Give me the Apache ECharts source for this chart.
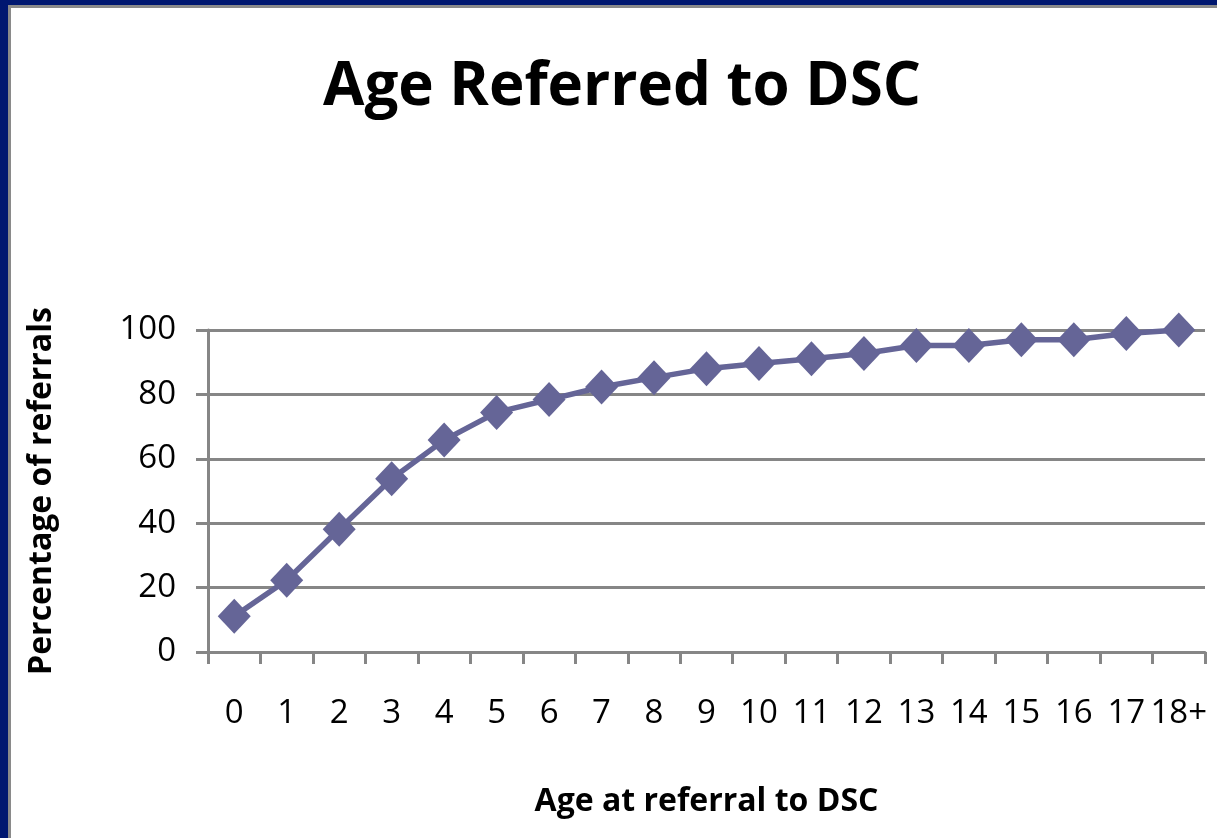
<!DOCTYPE html>
<html>
<head>
<meta charset="utf-8">
<title>Age Referred to DSC</title>
<script src="https://cdn.jsdelivr.net/npm/echarts@6/dist/echarts.min.js"></script>
<style>
    html, body { margin: 0; padding: 0; background: #fff; }
    #chart { width: 1217px; height: 838px; }
</style>
</head>
<body>
<div id="chart"></div>
<script>
// ages (categories) and cumulative percentage of referrals
var ageLabels = ['0', '1', '2', '3', '4', '5', '6', '7', '8', '9', '10', '11', '12', '13', '14', '15', '16', '17', '18+'];
var cumulativePct = [11.1, 22.3, 38.1, 53.8, 65.8, 74.4, 78.4, 82.3, 85.2, 88.0, 89.6, 91.1, 92.7, 95.2, 95.2, 97.0, 97.0, 98.9, 100];
var yTicks = [0, 20, 40, 60, 80, 100];

var FONT = '"Open Sans", "Noto Sans", sans-serif';
var gridColor = '#868686';
var lineColor = '#656597';

var chart = echarts.init(document.getElementById('chart'), null, { renderer: 'canvas' });

chart.setOption({
    animation: false,
    backgroundColor: '#fff',
    // slide frame: dark blue edge with a thin grey rule inside
    graphic: [
        { type: 'rect', left: 0, top: 0, shape: { width: 1217, height: 8 }, style: { fill: '#8a8a8a' }, z: 100 },
        { type: 'rect', left: 0, top: 0, shape: { width: 11, height: 838 }, style: { fill: '#8a8a8a' }, z: 100 },
        { type: 'rect', left: 0, top: 0, shape: { width: 1217, height: 5 }, style: { fill: '#001770' }, z: 101 },
        { type: 'rect', left: 0, top: 0, shape: { width: 8, height: 838 }, style: { fill: '#001770' }, z: 101 }
    ],
    title: {
        text: 'Age Referred to DSC',
        left: 318,
        top: 53,
        textStyle: { fontFamily: FONT, fontWeight: 'bold', fontSize: 60, color: '#000' }
    },
    grid: { left: 208, right: 12, top: 330, bottom: 186 },
    xAxis: {
        type: 'category',
        data: ageLabels,
        boundaryGap: true,
        name: 'Age at referral to DSC',
        nameLocation: 'middle',
        nameGap: 134,
        nameTextStyle: { fontFamily: FONT, fontWeight: 'bold', fontSize: 32, color: '#000' },
        axisLine: { lineStyle: { color: gridColor, width: 3 } },
        axisTick: { show: true, alignWithLabel: false, interval: 0, length: 12, lineStyle: { color: gridColor, width: 3 } },
        axisLabel: { interval: 0, margin: 45, fontFamily: FONT, fontSize: 33, color: '#000' },
        splitLine: { show: false }
    },
    yAxis: {
        type: 'value',
        min: yTicks[0],
        max: yTicks[yTicks.length - 1],
        interval: 20,
        name: 'Percentage of referrals',
        nameLocation: 'middle',
        nameGap: 150,
        nameTextStyle: { fontFamily: FONT, fontWeight: 'bold', fontSize: 32, color: '#000' },
        axisLine: { show: true, lineStyle: { color: gridColor, width: 3 } },
        axisTick: { show: true, length: 12, lineStyle: { color: gridColor, width: 3 } },
        axisLabel: { margin: 32, fontFamily: FONT, fontSize: 33, color: '#000' },
        splitLine: { lineStyle: { color: gridColor, width: 3 } }
    },
    series: [
        {
            name: 'Percentage of referrals',
            type: 'line',
            data: cumulativePct,
            symbol: 'diamond',
            symbolSize: [33, 35],
            lineStyle: { color: lineColor, width: 5.5 },
            itemStyle: { color: lineColor }
        }
    ]
});
</script>
</body>
</html>
